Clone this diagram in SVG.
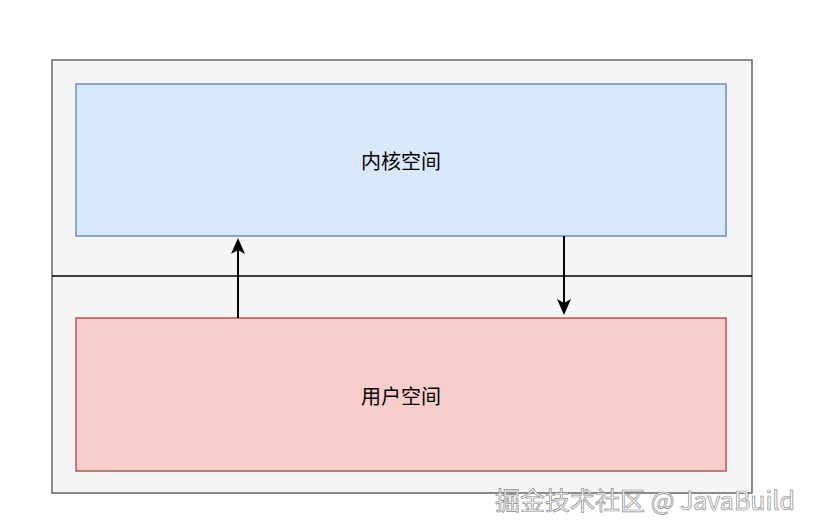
<svg xmlns="http://www.w3.org/2000/svg" width="816" height="532" viewBox="0 0 816 532">
<defs><marker id="a" markerWidth="16" markerHeight="16" refX="8" refY="8" orient="auto" markerUnits="userSpaceOnUse"><path d="M0,1 L16,8 L0,15 L4,8 Z" fill="#000"/></marker>
<style>text{font-family:"Noto Sans CJK SC",sans-serif;font-size:20px;text-anchor:middle;dominant-baseline:central}</style></defs>
<rect width="816" height="532" fill="#fff"/>
<g id="outer"><rect x="52" y="60" width="700" height="433" fill="#f5f5f5" stroke="#666" stroke-width="1.5"/></g>
<g id="divider"><line x1="52" y1="276" x2="752" y2="276" stroke="#000" stroke-width="1.5"/></g>
<g id="kernel"><rect x="76" y="84" width="650" height="152" fill="#dae8fc" stroke="#6c8ebf" stroke-width="1.5"/><text x="401" y="160">内核空间</text></g>
<g id="user"><rect x="76" y="318" width="650" height="153" fill="#f8cecc" stroke="#b85450" stroke-width="1.5"/><text x="401" y="395">用户空间</text></g>
<g id="connectors" stroke="#000" stroke-width="2">
<line x1="238" y1="318" x2="238" y2="246" marker-end="url(#a)"/>
<line x1="564" y1="236" x2="564" y2="307" marker-end="url(#a)"/>
</g>
<text x="645" y="499" style="font-size:25px;fill:#fff;stroke:#888;stroke-width:0.7">掘金技术社区 @ JavaBuild</text>
</svg>
